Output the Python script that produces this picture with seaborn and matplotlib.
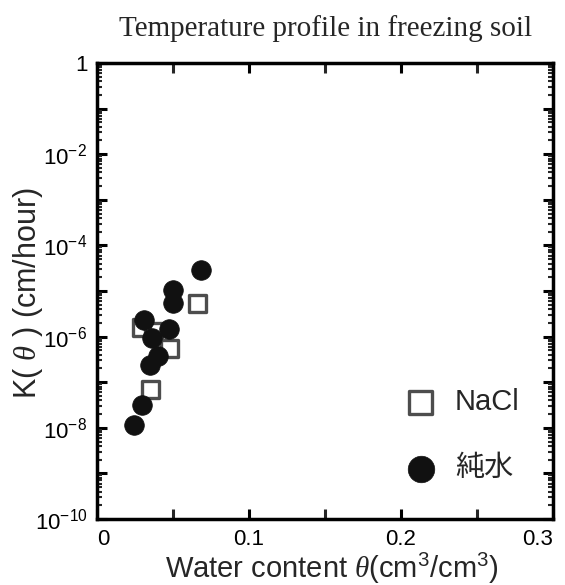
import numpy as np
import pandas as pd
import matplotlib
matplotlib.use("Agg")
import matplotlib.pyplot as plt
import matplotlib.ticker as mticker
import seaborn as sns

# ---- data ----
nacl_theta = [0.0659, 0.0294, 0.0370, 0.0475, 0.0349]
nacl_K = [5.2e-6, 1.6e-6, 1.3e-6, 5.5e-7, 6.9e-8]

water_theta = [0.0684, 0.0498, 0.0498, 0.0311, 0.0476, 0.0364, 0.0403, 0.0349, 0.0294, 0.0245]
water_K = [2.9e-5, 1.05e-5, 5.4e-6, 2.3e-6, 1.45e-6, 9.2e-7, 3.7e-7, 2.4e-7, 3.2e-8, 1.15e-8]

series_names = ["NaCl", "純水"]
x_ticks = [0, 0.1, 0.2, 0.3]
x_ticklabels = ["0", "0.1", "0.2", "0.3"]
y_label_exps = [0, -2, -4, -6, -8, -10]

df = pd.DataFrame({
    "theta": nacl_theta + water_theta,
    "K": nacl_K + water_K,
    "series": [series_names[0]] * len(nacl_theta) + [series_names[1]] * len(water_theta),
})

sns.set_theme(style="ticks")
plt.rcParams["font.family"] = ["Liberation Sans", "Noto Sans CJK JP", "DejaVu Sans"]
plt.rcParams["mathtext.fontset"] = "custom"
plt.rcParams["mathtext.rm"] = "Liberation Sans"
plt.rcParams["mathtext.it"] = "Liberation Serif:italic"
plt.rcParams["mathtext.default"] = "regular"

fig = plt.figure(figsize=(5.65, 5.85), dpi=100)
ax = fig.add_axes([0.1717, 0.1128, 0.807, 0.7795])

d1 = df[df.series == series_names[0]]
d2 = df[df.series == series_names[1]]
sns.scatterplot(data=d1, x="theta", y="K", ax=ax, marker="s", s=150,
                facecolor="none", edgecolor="#4d4d4d", linewidth=2.4,
                label=series_names[0], zorder=2)
sns.scatterplot(data=d2, x="theta", y="K", ax=ax, marker="o", s=200,
                color="#111111", edgecolor="#111111", linewidth=0.5,
                label=series_names[1], zorder=3)

ax.set_yscale("log")
ax.set_xlim(0, 0.3)
ax.set_ylim(1e-10, 1)

# x ticks
ax.xaxis.set_major_locator(mticker.FixedLocator(x_ticks))
ax.set_xticklabels(x_ticklabels)
ax.xaxis.set_minor_locator(mticker.FixedLocator([0.05, 0.15, 0.25]))
# y ticks
ax.yaxis.set_major_locator(mticker.FixedLocator([10.0 ** e for e in range(-10, 1)]))
def yfmt(v, pos):
    e = int(round(np.log10(v)))
    if e not in y_label_exps:
        return ""
    if e == 0:
        return "1"
    return r"$10^{%d}$" % e
ax.yaxis.set_major_formatter(mticker.FuncFormatter(yfmt))
ax.yaxis.set_minor_locator(mticker.LogLocator(base=10, subs=np.arange(2, 10), numticks=20))
ax.yaxis.set_minor_formatter(mticker.NullFormatter())

ax.tick_params(which="major", direction="in", length=7, width=2.2,
               top=True, right=True, labelsize=16, colors="black")
ax.tick_params(axis="x", which="major", pad=7)
ax.tick_params(axis="y", which="major", pad=7)
ax.tick_params(which="minor", axis="x", direction="in", length=7, width=2.2, top=True)
ax.tick_params(which="minor", axis="y", direction="in", length=3.5, width=1.5, right=True)
for sp in ax.spines.values():
    sp.set_linewidth(2.5)
    sp.set_color("black")
ax.set_xlabel("")
ax.set_ylabel("")

xt = ax.get_xticklabels()
xt[0].set_horizontalalignment("left")
xt[-1].set_horizontalalignment("right")

fig.text(28 / 565, 1 - 293 / 585, r"K( $\mathit{\theta}$ ) (cm/hour)", rotation=90,
         fontsize=22, ha="center", va="center")
fig.text(332 / 565, 1 - 578 / 585, r"Water content $\mathit{\theta}$(cm$^3$/cm$^3$)",
         fontsize=21, ha="center", va="baseline")
fig.text(326 / 565, 1 - 36 / 585, "Temperature profile in freezing soil",
         fontsize=21, ha="center", va="baseline", family="Liberation Serif")

leg = ax.legend(loc="center left", bbox_to_anchor=(0.6785, 0.184), frameon=False,
                fontsize=21, handlelength=1.0, handletextpad=0.66, labelspacing=1.32,
                borderaxespad=0, borderpad=0, markerscale=1.35)

fig.savefig("out.png", dpi=100)
